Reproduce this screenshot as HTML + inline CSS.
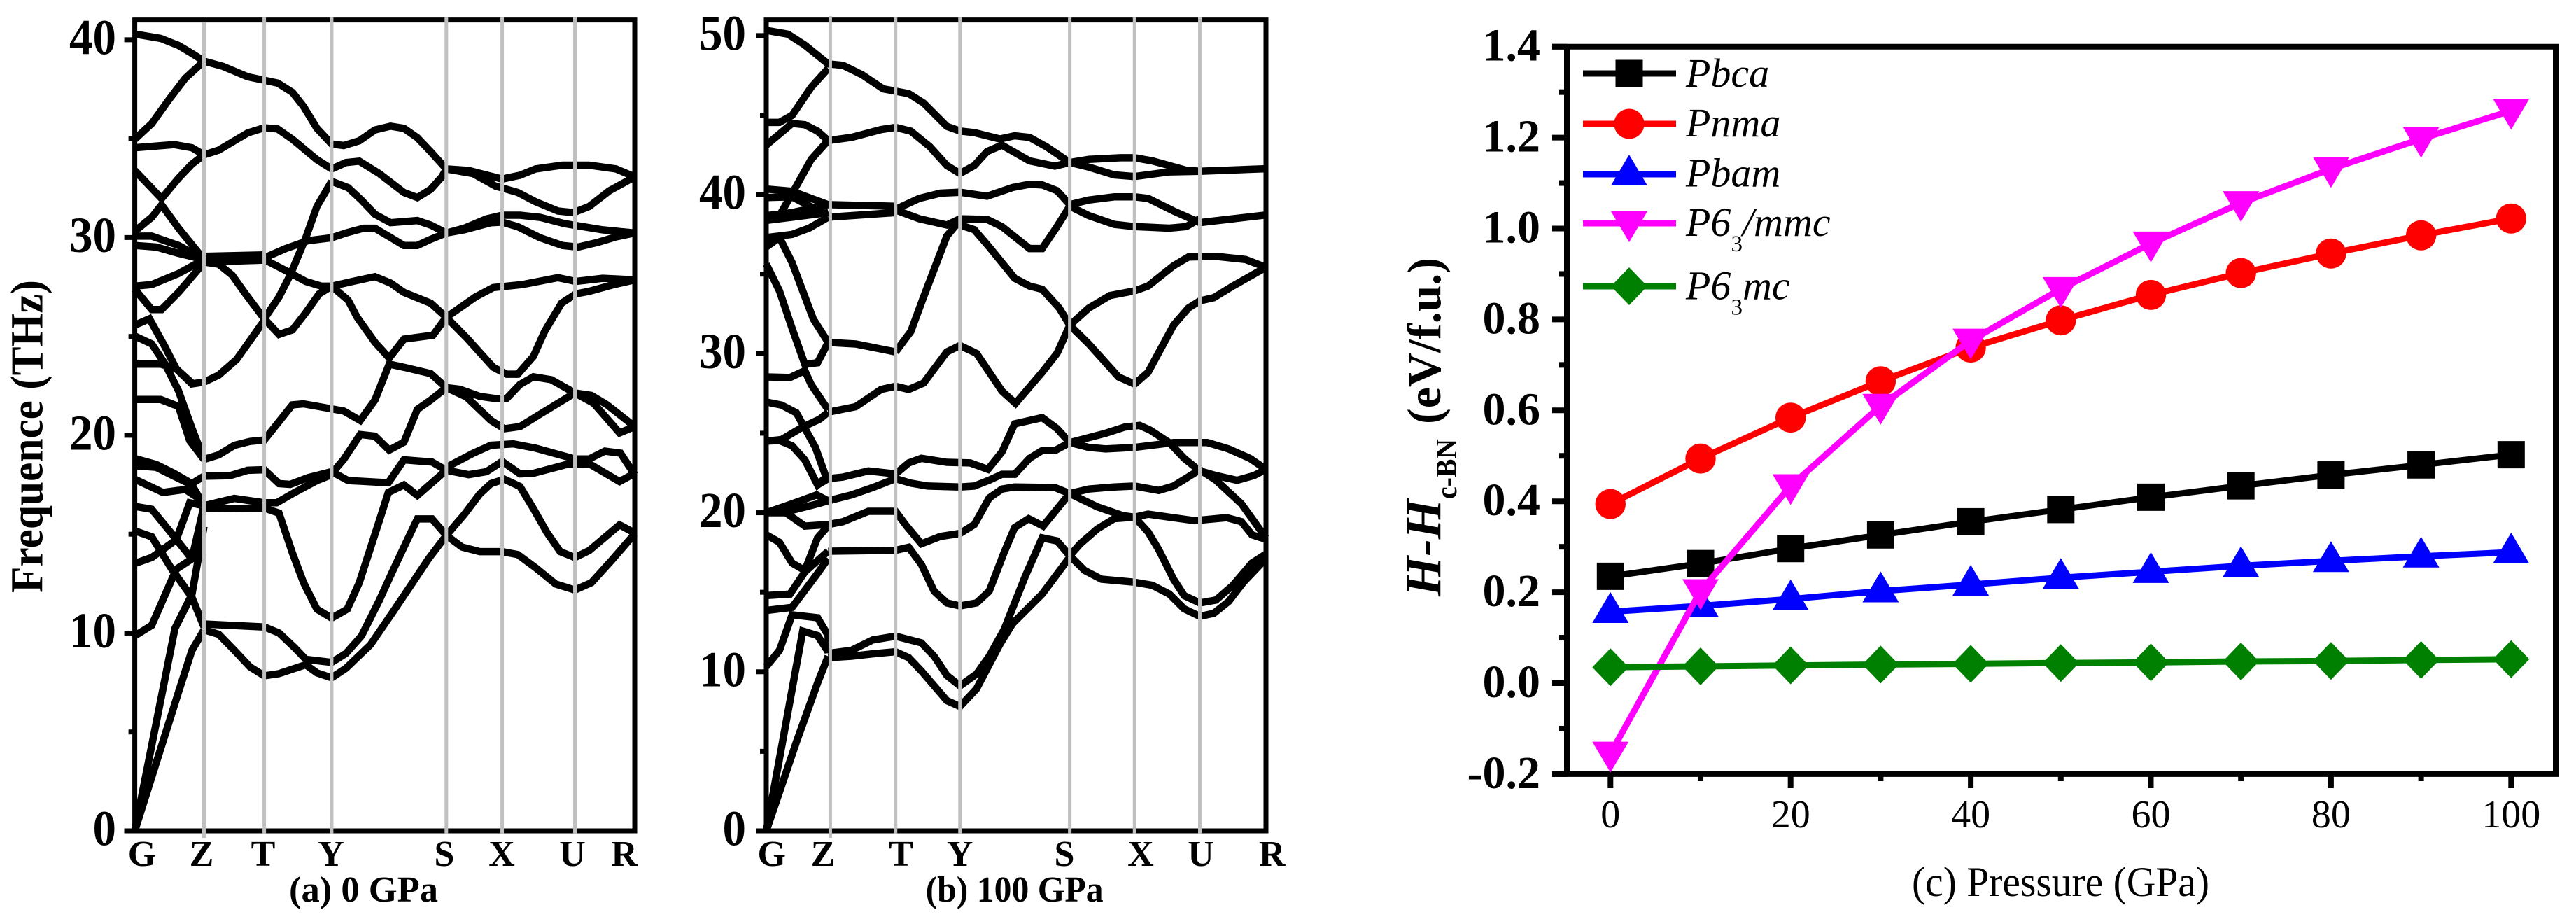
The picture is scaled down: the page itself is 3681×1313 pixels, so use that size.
<!DOCTYPE html>
<html lang="en">
<head>
<meta charset="utf-8">
<title>Phonon dispersion and enthalpy of BN phases</title>
<style>
html,body{margin:0;padding:0;background:#fff;}
svg{display:block;}
text{font-family:"Liberation Serif","Times New Roman",serif;fill:#000;}
</style>
</head>
<body>
<svg id="figure" xmlns="http://www.w3.org/2000/svg" width="3681" height="1313" viewBox="0 0 3681 1313">
  <rect x="0" y="0" width="3681" height="1313" fill="#fff"/>
  <g id="panelA"></g>
  <g id="panelB"></g>
  <g id="panelC"></g>

  <text transform="translate(60.6,847) rotate(-90)" font-size="66" font-weight="bold" textLength="447" lengthAdjust="spacingAndGlyphs">Frequence (THz)</text>
  <text x="413" y="1288" font-size="52" font-weight="bold" textLength="213" lengthAdjust="spacingAndGlyphs">(a) 0 GPa</text>
  <text x="1322.6" y="1288" font-size="52" font-weight="bold" textLength="254" lengthAdjust="spacingAndGlyphs">(b) 100 GPa</text>

  <text x="2732" y="1280" font-size="60" textLength="425" lengthAdjust="spacingAndGlyphs">(c) Pressure (GPa)</text>
  <text transform="translate(2058,852) rotate(-90)" font-size="73" font-weight="bold" font-style="italic" textLength="139" lengthAdjust="spacingAndGlyphs">H-H</text>
  <text transform="translate(2081,713) rotate(-90)" font-size="42" font-weight="bold" textLength="86" lengthAdjust="spacingAndGlyphs">c-BN</text>
  <text transform="translate(2058,606) rotate(-90)" font-size="68" font-weight="bold" textLength="238" lengthAdjust="spacingAndGlyphs">(eV/f.u.)</text>

  <g id="legend"></g>
  <g font-size="58" font-style="italic">
    <text x="2409" y="124">Pbca</text>
    <text x="2409" y="195">Pnma</text>
    <text x="2409" y="266.5">Pbam</text>
    <text x="2409" y="337">P6<tspan font-size="33" font-style="normal" dy="22">3</tspan><tspan dy="-22">/mmc</tspan></text>
    <text x="2409" y="427.7">P6<tspan font-size="33" font-style="normal" dy="22">3</tspan><tspan dy="-22">mc</tspan></text>
  </g>
</svg>
<script>
// ---------- Panel (a) phonon dispersion at 0 GPa: [k, THz, k, THz, ...] along the path ----------
const kPathEndA = 1120;
const kSymA = [155, 290, 441, 698, 823, 986];
const kLabelsA = ['G','Z','T','Y','S','X','U','R'];
const freqMajorA = [0, 10, 20, 30, 40];
const freqMinorA = [5, 15, 25, 35];
const bandsA = [
[0,40.29,58,40.07,98,39.71,128,39.31,155,38.92,198,38.65,253,38.13,320,37.81,353,37.34,378,36.63,408,35.52,441,34.73,468,34.65,503,34.89,538,35.44,573,35.63,603,35.52,633,35.05,663,34.34,698,33.47,748,33.39,823,32.96,863,33.15,898,33.47,958,33.66,1018,33.66,1078,33.47,1120,33.07],
[698,33.47,758,33.23,808,32.6,858,32.28,898,31.81,948,31.34,983,31.26,1018,31.57,1063,32.36,1120,33.07],
[0,34.97,38,35.76,78,37.02,113,38.05,155,38.92],
[0,34.54,88,34.7,128,34.54,155,34.18,188,34.42,253,35.29,290,35.55,320,35.49,353,34.97,408,33.94,441,33.47,473,33.79,503,33.86,548,33.23,603,32.28,633,32.02,663,32.44,688,33.07,698,33.47],
[0,33.39,60,31.97,98,33,128,33.71,155,34.18],
[0,30.31,38,31.02,60,31.65,98,30.47,155,28.89],
[0,30.07,38,30.07,98,29.6,155,28.89],
[0,29.6,48,29.52,98,29.2,155,28.89],
[0,27.54,38,27.62,98,28.18,155,28.89],
[0,27.39,38,26.36,60,26.36,98,27.23,155,28.73],
[155,29.05,290,29.12],
[155,28.76,290,28.86],
[290,28.97,338,29.44,388,29.84,441,29.99,473,30.23,513,30.47,538,30.47,568,30.07,603,29.6,633,29.6,663,29.91,698,30.23,738,30.39,798,30.75,823,30.78,858,30.55,908,29.99,958,29.6,993,29.52,1038,29.76,1078,30.03,1120,30.23],
[698,30.23,738,30.47,788,30.94,823,31.13,863,31.13,908,31.02,963,30.7,1048,30.39,1120,30.23],
[441,32.84,478,32.52,508,31.89,538,31.18,573,30.75,633,30.86,663,30.63,698,30.23],
[155,28.76,188,28.65,218,28.1,248,27.15,290,25.89,323,26.99,348,28.1,383,29.99,408,31.57,441,32.84],
[290,25.89,323,25.1,353,25.33,383,26.2,413,27.15,441,27.54],
[290,28.89,338,28.33,383,27.78,418,27.54,441,27.54,488,27.78,538,28.02,573,27.7,603,27.23,663,26.68,698,25.97,728,26.44,763,26.99,803,27.47,868,27.62,948,27.97,988,27.78,1048,27.94,1120,27.86],
[441,27.54,478,26.83,498,25.97,538,24.7,570,23.91,603,24.86,668,25.06,698,25.97,743,24.94,803,23.44,833,23.09,858,23.09,893,23.99,918,25.25,956,26.68,988,27.15,1018,27.28,1068,27.59,1120,27.86],
[0,25.57,33,25.89,68,24.46,93,23.36,128,22.6,155,22.69,188,23.04,228,23.83,290,25.81],
[0,25.02,38,24.62,68,23.6,98,22.25,128,20.36,155,18.78],
[0,23.6,58,23.6,93,23.36,128,22.65],
[0,21.81,58,21.81,98,21.46,123,19.73,155,18.78],
[155,18.78,188,19.01,223,19.49,258,19.69,290,19.76,353,21.54,378,21.59,418,21.43,468,21.23,505,20.75,538,21.78,570,23.6,603,23.44,663,23.12,698,22.41,728,22.33,773,21.97,808,21.86,833,21.86,863,22.57,893,22.96,933,22.81,986,22.14],
[698,22.41,743,21.94,798,20.75,828,20.33,863,20.44,908,21.07,986,22.14,1023,22.02,1058,21.54,1120,20.44],
[986,22.14,1028,21.62,1086,20.12,1120,20.44],
[441,18.07,468,18.78,505,20.04,538,19.96,570,19.25,603,19.65,633,21.31,663,21.78,698,22.41],
[0,18.83,48,18.53,88,18.08,128,17.56,155,17.93,213,17.96,253,18.23,290,18.26,323,17.56,348,17.52,388,17.86,441,18.16,478,17.71,568,17.6,603,18.76,666,18.65,698,18.23],
[0,18.46,48,18.38,88,17.93,128,17.49,155,16.44],
[0,17.78,63,17.11,113,17.26,138,16.89,155,16.36],
[155,16.44,223,16.81,290,16.59,318,16.59,358,17.11,408,17.71,441,18.01],
[155,16.29,290,16.32,323,16.07,353,14.05,378,12.55,408,11.21,441,10.76,476,11.21,503,12.55,518,13.6,548,15.69,568,17.11,603,17.49,633,16.96,698,18.23],
[698,18.38,758,19.09,798,19.5,848,19.57,898,19.35,986,18.8,1018,18.8,1053,19.2,1088,19.1,1120,18],
[698,18.23,748,18.01,788,18.16,823,18.68,863,18.05,893,18.08,968,18.53,1018,18.56,1086,17.66,1120,18.08],
[698,14.94,738,15.99,773,17.04,798,17.56,828,17.78,863,17.41,893,16.29,923,15.1,953,14.12,986,13.82,1018,14.17,1086,15.47,1120,15.06],
[698,14.94,733,14.35,773,14.12,823,14.12,858,13.97,898,13.3,943,12.48,986,12.18,1023,12.55,1068,13.67,1120,15.02],
[155,10.46,290,10.31,323,10.01,358,9.26,383,8.67,441,8.52,473,8.97,508,9.86,548,11.66,578,13.15,603,14.35,633,15.77,666,15.77,698,14.94],
[155,10.16,188,9.94,223,9.13,258,8.29,290,7.84,323,7.95,383,8.4,408,7.99,441,7.74,473,8.22,528,9.41,578,11.06,618,12.4,658,13.75,698,14.94],
[0,15.17,38,14.87,83,13.23,128,11.81,155,10.31],
[0,16.41,38,16.26,83,15.02,128,13.75],
[0,9.86,38,10.39,93,13.23,128,13.75,155,16.44],
[0,13.52,38,13.82,93,14.72,123,16.59,155,16.44],
[0,0,90,10.24,128,11.95,155,15.39],
[0,0,98,7.02,128,9.12,155,10.16]
];

// ---------- Panel (b) phonon dispersion at 100 GPa ----------
const kPathEndB = 1179;
const kSymB = [151, 305, 457, 716, 869, 1023];
const kLabelsB = ['G','Z','T','Y','S','X','U','R'];
const freqMajorB = [0, 10, 20, 30, 40, 50];
const freqMinorB = [5, 15, 25, 35, 45];
const bandsB = [
[0,50.33,51,50.09,91,49.4,146,48.22,181,48.13,226,47.54,276,46.65,336,46.35,371,45.76,426,44.29,457,44,491,43.9,551,43.5,586,43.7,621,43.6,661,43.01,716,42.02,761,42.22,836,42.32,869,42.32,911,42.12,991,41.53,1023,41.47,1179,41.63],
[0,44.54,31,44.54,61,44.98,106,46.75,146,47.93],
[0,43.11,61,44.48,91,44.39,121,43.99,146,43.4,201,43.6,271,44.09,305,44.23,341,43.99,386,43.01,426,41.83,457,41.33,491,41.83,521,42.71,556,43.11,621,42.12,681,41.79,716,42.02,761,41.73,821,41.24,869,41.14,951,41.43,1023,41.47],
[0,38.38,31,38.68,61,40.06,106,42.22,146,43.4],
[0,40.35,61,40.21,146,39.37],
[0,39.82,61,39.86,146,38.68],
[0,38.68,61,38.87,146,39.37],
[0,38.38,61,38.58,146,38.87],
[0,37.3,61,37.5,101,37.89,146,38.58],
[146,39.37,305,39.27],
[146,38.58,305,38.87],
[305,39.07,361,39.76,411,40.09,457,40.15,521,39.9,581,40.45,621,40.65,651,40.61,686,40.25,716,39.37,761,39.66,821,39.86,869,39.86,901,39.76,961,38.97,1023,38.24,1101,38.48,1179,38.72],
[305,39.03,361,38.48,426,38.09,457,38.48,521,38.44,556,37.99,621,36.61,651,36.61,686,37.99,716,39.27,761,38.68,821,38.13,869,37.99,951,37.89,991,37.99,1023,38.48],
[305,30.11,341,31.39,371,33.56,426,37.4,457,38.38],
[457,38.09,491,37.79,526,36.71,586,34.74,621,34.25,651,34.05,691,32.87,716,31.79,761,30.61,831,28.54,869,28.09,901,28.83,961,31.79,996,32.87,1023,33.32,1056,33.52,1101,34.25,1179,35.43],
[716,31.79,761,32.87,811,33.66,869,33.95,901,34.25,961,35.53,996,36.08,1061,36.12,1131,35.92,1179,35.43],
[146,30.71,211,30.61,305,30.11],
[0,35.63,31,33.95,61,31.59,91,29.33,121,29.43,146,30.71],
[0,36.71,31,37.3,61,35.72,111,32.18,146,30.71],
[716,31.79,686,30.02,651,28.83,588,26.87,556,27.65,496,30.02,457,30.51,426,30.11,371,28.15,336,27.75,305,27.95,271,27.75,211,26.67,146,26.32],
[146,26.32,126,25.88,86,25.39,36,24.6,0,24.5],
[146,26.47,106,28.05,91,28.93,56,28.5,0,28.54],
[0,26.96,36,26.77,71,26.28,116,24.11,141,22.24,121,21.75,91,23.32,61,24.21,31,24.54,0,24.5],
[121,21.75,146,22.14,181,22.24,241,22.63,305,22.44,336,23.13,366,23.42,426,23.17,481,23.13,523,22.73,556,23.82,586,25.59,651,25.98,686,25.29,716,24.41],
[716,24.41,761,24.11,801,24.01,869,24.11,961,24.41,1041,24.41,1091,24.01,1141,23.42,1179,22.73],
[716,24.41,801,25,846,25.39,881,25.49,906,25.19,951,24.41,986,23.42,1023,22.63,1061,22.34,1111,22.04,1151,22.34,1179,22.73],
[0,20,51,20.47,119,21.12,146,20.75],
[0,20,51,20.09,121,20.56,146,20.75],
[146,20.75,201,21.12,251,21.58,305,22.14,341,21.86,381,21.68,457,21.62,491,21.68,526,22.05,556,22.42,586,22.42,621,23.42,651,23.91,681,23.91,716,24.41],
[0,20,46,20,91,19.16,146,19.26,181,19.44,241,20.09,305,20.09,331,19.16,366,18.05,411,18.51,457,18.7,491,19.26,526,20.93,556,21.49,586,21.62,681,21.58,716,21.21,761,21.49,821,21.62,869,21.68,926,21.4,961,21.68,1023,22.7,1061,22.05,1121,20.56,1179,18.42],
[716,21.21,781,20.37,841,19.82,869,19.72,901,19.91,1011,19.5,1086,19.69,1121,19.44,1146,18.61,1179,18.33],
[0,18.61,31,18.14,61,16.84,91,16.37,121,18.42,146,19.16],
[0,14.79,56,14.89,91,16.28,146,17.58],
[0,13.86,61,14.05,121,16.19,146,17.12],
[146,17.58,305,17.64,336,17.83,366,16.75,396,15.07,426,14.33,457,14.14,496,14.33,526,15.07,561,17.49,586,19.07,619,19.63,653,19.16,716,21.21],
[869,19.72,901,18.79,926,17.68,961,15.82,986,14.79,1023,14.33,1061,14.51,1101,15.44,1146,16.84,1179,17.4],
[869,19.72,821,19.63,781,18.98,741,18.05,716,17.3],
[716,17.3,751,16.37,791,15.82,869,15.63,911,15.44,951,14.89,986,13.96,1023,13.49,1056,13.68,1091,14.42,1126,15.63,1179,17.12],
[716,17.3,686,18.23,651,18.42,611,16,561,12.65,526,10.98,496,9.86,457,9.12,426,9.77,396,10.98,366,11.82,305,12.24,251,12,201,11.35,146,11.16],
[716,17.21,651,14.89,581,13.03,551,11.72,496,8.93,457,7.82,426,8.19,366,10.05,336,10.89,305,11.26,251,11.13,201,10.98,146,10.89],
[0,10.33,31,11.35,61,13.58,121,13.4,146,12.28,146,11.16],
[0,0,86,12.56,121,12.28,146,11.26],
[0,0,71,5.58,121,9.3,146,10.98]
];

// ---------- Panel (c) enthalpy vs pressure ----------
const pressures = [0,10,20,30,40,50,60,70,80,90,100];
const pbcaValues = [0.235,0.263,0.296,0.326,0.355,0.382,0.409,0.434,0.458,0.480,0.5025];
const pnmaValues = [0.394,0.494,0.584,0.664,0.738,0.798,0.854,0.902,0.945,0.985,1.022];
const pbamValues = [0.157,0.170,0.185,0.2025,0.217,0.232,0.245,0.258,0.269,0.279,0.288];
const p63mmcValues = [-0.155,0.2025,0.4335,0.61,0.7535,0.867,0.967,1.056,1.131,1.197,1.259];
const p63mcValues = [0.035,0.037,0.039,0.041,0.0425,0.0443,0.0456,0.0477,0.0488,0.051,0.0527];
const xMajorC = [0,20,40,60,80,100];
const xMinorC = [10,30,50,70,90];
const yMajorC = [-0.2,0,0.2,0.4,0.6,0.8,1.0,1.2,1.4];
const yMinorC = [-0.1,0.1,0.3,0.5,0.7,0.9,1.1,1.3];

const NS = 'http://www.w3.org/2000/svg';
function mk(tag, parent, attrs) {
  const e = document.createElementNS(NS, tag);
  for (const key in attrs) e.setAttribute(key, attrs[key]);
  parent.appendChild(e);
  return e;
}
function polyline(parent, pts, color, width) {
  return mk('polyline', parent, {points: pts.join(' '), fill: 'none', stroke: color, 'stroke-width': width, 'stroke-linejoin': 'miter', 'stroke-miterlimit': 3, 'stroke-linecap': 'butt'});
}
function line(parent, x1, y1, x2, y2, color, width) {
  return mk('line', parent, {x1: x1, y1: y1, x2: x2, y2: y2, stroke: color, 'stroke-width': width});
}

function drawBandPanel(parent, panelId, bands, kSym, kLabels, kEnd, fMajor, fMinor, fTop, geom) {
  const left = geom.left, right = geom.right, bottom = 1187, top = 28.6;
  const xOf = k => left + k * (right - left) / kEnd;
  const yOf = f => bottom - f * (bottom - top) / fTop;

  bands.forEach(function (b) {
    const pts = [];
    for (let i = 0; i < b.length; i += 2) pts.push(xOf(b[i]).toFixed(1) + ',' + yOf(b[i + 1]).toFixed(1));
    const p = polyline(parent, pts, '#000', 10.5);
    
    
  });

  // axes frame
  const frame = mk('path', parent, {d: 'M' + left + ' ' + bottom + 'V' + top + 'H' + right + 'V' + bottom + 'H' + (left - 15), fill: 'none', stroke: '#000', 'stroke-width': 7});
  
  

  fMajor.forEach(function (f) {
    const t = line(parent, left - 15, yOf(f), left, yOf(f), '#000', 7);
    
    
    const lab = mk('text', parent, {x: geom.labelRight, y: yOf(f) + 20.5, 'text-anchor': 'end', 'font-size': 72, 'font-weight': 'bold', textLength: String(f).length * 33.5, lengthAdjust: 'spacingAndGlyphs'});
    lab.textContent = f;
    
    
  });
  fMinor.forEach(function (f) {
    const t = line(parent, left - 9, yOf(f), left, yOf(f), '#000', 7);
    
    
  });

  kSym.forEach(function (k, i) {
    const g = line(parent, xOf(k), i === 0 ? geom.firstTop : 24, xOf(k), i === 0 ? 1197 : 1192, '#c0c0c0', 5);
    
    
  });

  kLabels.forEach(function (name, i) {
    const lab = mk('text', parent, {x: geom.labelX[i], y: 1237, 'text-anchor': 'middle', 'font-size': 52, 'font-weight': 'bold'});
    lab.textContent = name;
    
    
  });
}

drawBandPanel(document.getElementById('panelA'), 'a', bandsA, kSymA, kLabelsA, kPathEndA, freqMajorA, freqMinorA, 41.0,
  {left: 192.6, right: 907, labelRight: 166, firstTop: 31, labelX: [203, 288, 376, 473, 635, 717, 818, 892]});
drawBandPanel(document.getElementById('panelB'), 'b', bandsB, kSymB, kLabelsB, kPathEndB, freqMajorB, freqMinorB, 50.98,
  {left: 1095, right: 1809, labelRight: 1066, firstTop: 23, labelX: [1102.7, 1176, 1287.5, 1371.7, 1521, 1630, 1716, 1817.6]});

// ---- panel C ----
const panelC = document.getElementById('panelC');
const xC = p => 2301.3 + p * 12.87;
const yC = v => 976 - v * 649.5;

const frameC = mk('path', panelC, {d: 'M2239 ' + yC(-0.2) + 'V' + yC(1.4) + 'H3652V' + yC(-0.2) + 'H2218M2239 ' + yC(1.4) + 'H2218', fill: 'none', stroke: '#000', 'stroke-width': 8});



yMajorC.forEach(function (v) {
  const t = line(panelC, 2218, yC(v), 2239, yC(v), '#000', 8);
  
  
  const lab = mk('text', panelC, {x: 2201, y: yC(v) + 20, 'text-anchor': 'end', 'font-size': 66, 'font-weight': 'bold'});
  lab.textContent = v.toFixed(1);
  
  
});
yMinorC.forEach(function (v) {
  const t = line(panelC, 2228, yC(v), 2239, yC(v), '#000', 8);
  
  
});
xMajorC.forEach(function (p) {
  const t = line(panelC, xC(p), yC(-0.2), xC(p), 1126, '#000', 8);
  
  
  const lab = mk('text', panelC, {x: xC(p), y: 1182, 'text-anchor': 'middle', 'font-size': 56});
  lab.textContent = p;
  
  
});
xMinorC.forEach(function (p) {
  const t = line(panelC, xC(p), yC(-0.2), xC(p), 1116, '#000', 8);
  
  
});

function marker(parent, shape, x, y, color) {
  let m;
  if (shape === 'square') {
    m = mk('rect', parent, {x: x - 19.5, y: y - 19.5, width: 39, height: 39, fill: color});
  } else if (shape === 'circle') {
    m = mk('ellipse', parent, {cx: x, cy: y, rx: 21.7, ry: 21.5, fill: color});
  } else {
    let pts;
    if (shape === 'up') pts = [[0, -28], [26, 16], [-26, 16]];
    else if (shape === 'down') pts = [[-26, -17], [26, -17], [0, 27]];
    else pts = [[0, -27], [26, 0], [0, 27], [-26, 0]];
    m = mk('polygon', parent, {points: pts.map(q => (x + q[0]) + ',' + (y + q[1])).join(' '), fill: color});
  }
  return m;
}

function drawSeries(slug, values, color, shape) {
  const g = mk('g', panelC, {});
  
  
  const pl = polyline(g, pressures.map((p, i) => xC(p).toFixed(1) + ',' + yC(values[i]).toFixed(1)), color, 9);
  
  
  pressures.forEach(function (p, i) {
    const m = marker(g, shape, xC(p), yC(values[i]), color);
    
    
  });
}
drawSeries('pbca', pbcaValues, '#000000', 'square');
drawSeries('pnma', pnmaValues, '#ff0000', 'circle');
drawSeries('pbam', pbamValues, '#0000ff', 'up');
drawSeries('p63-mmc', p63mmcValues, '#ff00ff', 'down');
drawSeries('p63mc', p63mcValues, '#008000', 'diamond');

// ---- legend ----
const legend = document.getElementById('legend');
function legendEntry(y, color, shape) {
  const l = line(legend, 2262, y, 2395, y, color, 9);
  
  
  const m = marker(legend, shape, 2328, y, color);
  
  
}
legendEntry(105, '#000000', 'square');
legendEntry(177, '#ff0000', 'circle');
legendEntry(249, '#0000ff', 'up');
legendEntry(319, '#ff00ff', 'down');
legendEntry(409, '#008000', 'diamond');
</script>
</body>
</html>
